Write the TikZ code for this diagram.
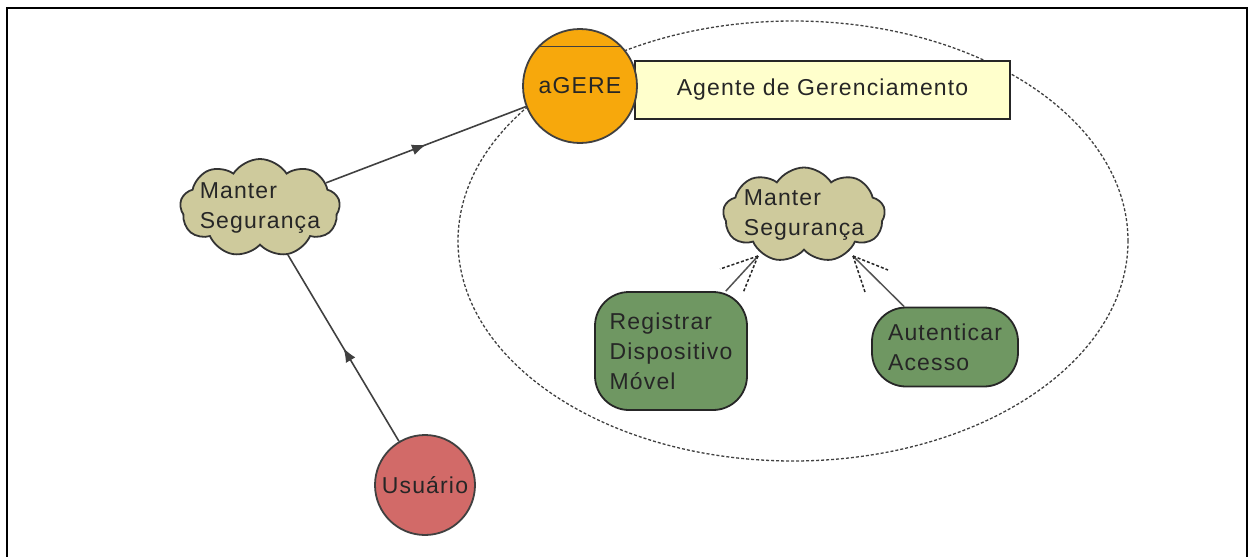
\documentclass[tikz,border=0pt]{standalone}
\usepackage{fontspec}
\setmainfont[LetterSpace=5]{Liberation Sans}
\usetikzlibrary{shapes.symbols,shapes.geometric,decorations.markings,arrows.meta}
\definecolor{orangeA}{HTML}{F7A80C}
\definecolor{khakiA}{HTML}{CECA9C}
\definecolor{greenA}{HTML}{6F9762}
\definecolor{redA}{HTML}{D26A68}
\definecolor{yellowA}{HTML}{FFFFCC}
\definecolor{lineA}{HTML}{404040}
\begin{document}
\begin{tikzpicture}[x=1pt,y=-1pt,
  every node/.style={font=\fontsize{23}{30}\selectfont, text=black!85},
  cloudbox/.style={cloud, cloud puffs=9, cloud puff arc=115, draw=black!80, line width=1.8pt, fill=khakiA, inner sep=0pt, minimum width=160pt, minimum height=98pt},
  roundbox/.style={rounded corners=34pt, draw=black!85, line width=1.8pt, fill=greenA, align=left, inner sep=0pt},
  circbox/.style={circle, draw=black!75, line width=1.8pt, inner sep=0pt},
  midarrow/.style={draw=lineA, line width=1.6pt, postaction={decorate}, decoration={markings, mark=at position 0.5 with {\arrow{Latex[length=14pt,width=11pt]}}}},
  plainline/.style={draw=lineA!90, line width=1.5pt},
  fanline/.style={draw=black!85, line width=1.5pt, dash pattern=on 3pt off 2pt},
  boundary/.style={draw=black!75, line width=1.3pt, dash pattern=on 3pt off 2pt},
  cloudtext/.style={label={[align=left, inner sep=0pt]center:Manter\\Segurança}}
]
\useasboundingbox (0,0) rectangle (1248,557);
% frame
\draw[line width=2.2pt, line cap=rect] (7,557) -- (7,8) -- (1247,8) -- (1247,557);
% boundary ellipse
\draw[boundary] (793,241) ellipse [x radius=335pt, y radius=220pt];
% nodes
\node[draw=black!85, line width=1.8pt, fill=yellowA, minimum width=375pt, minimum height=58pt, inner sep=0pt] (rect) at (822.5,90) {Agente de Gerenciamento};
\node[circbox, fill=orangeA, minimum size=114pt] (ag) at (580,86) {\raisebox{-3pt}{aGERE}};
\draw[draw=black!75, line width=1.8pt] (ag.137) -- (ag.43);
\node[cloudbox, cloudtext] (c1) at (260,208) {};
\node[cloudbox, cloudtext, minimum width=162pt, minimum height=95pt] (c2) at (804,215) {};
\node[roundbox, minimum width=152pt, minimum height=118pt] (reg) at (671,351) {Registrar\\Dispositivo\\Móvel};
\node[roundbox, minimum width=146pt, minimum height=79pt] (aut) at (945,347) {Autenticar\\Acesso};
\node[circbox, fill=redA, minimum size=100pt] (us) at (425,485) {Usuário};
% connectors
\draw[midarrow] (c1) -- (ag);
\draw[midarrow] (us) -- (c1);
\coordinate (f1) at (758,256);
\coordinate (f2) at (853,256);
\coordinate (f1a) at (720,269);
\coordinate (f1b) at (743,293);
\coordinate (f2a) at (888,270);
\coordinate (f2b) at (865,292);
\draw[plainline] (reg) -- (f1);
\draw[plainline] (aut) -- (f2);
\draw[fanline] (f1) -- (f1a);
\draw[fanline] (f1) -- (f1b);
\draw[fanline] (f2) -- (f2a);
\draw[fanline] (f2) -- (f2b);
\end{tikzpicture}
\end{document}
